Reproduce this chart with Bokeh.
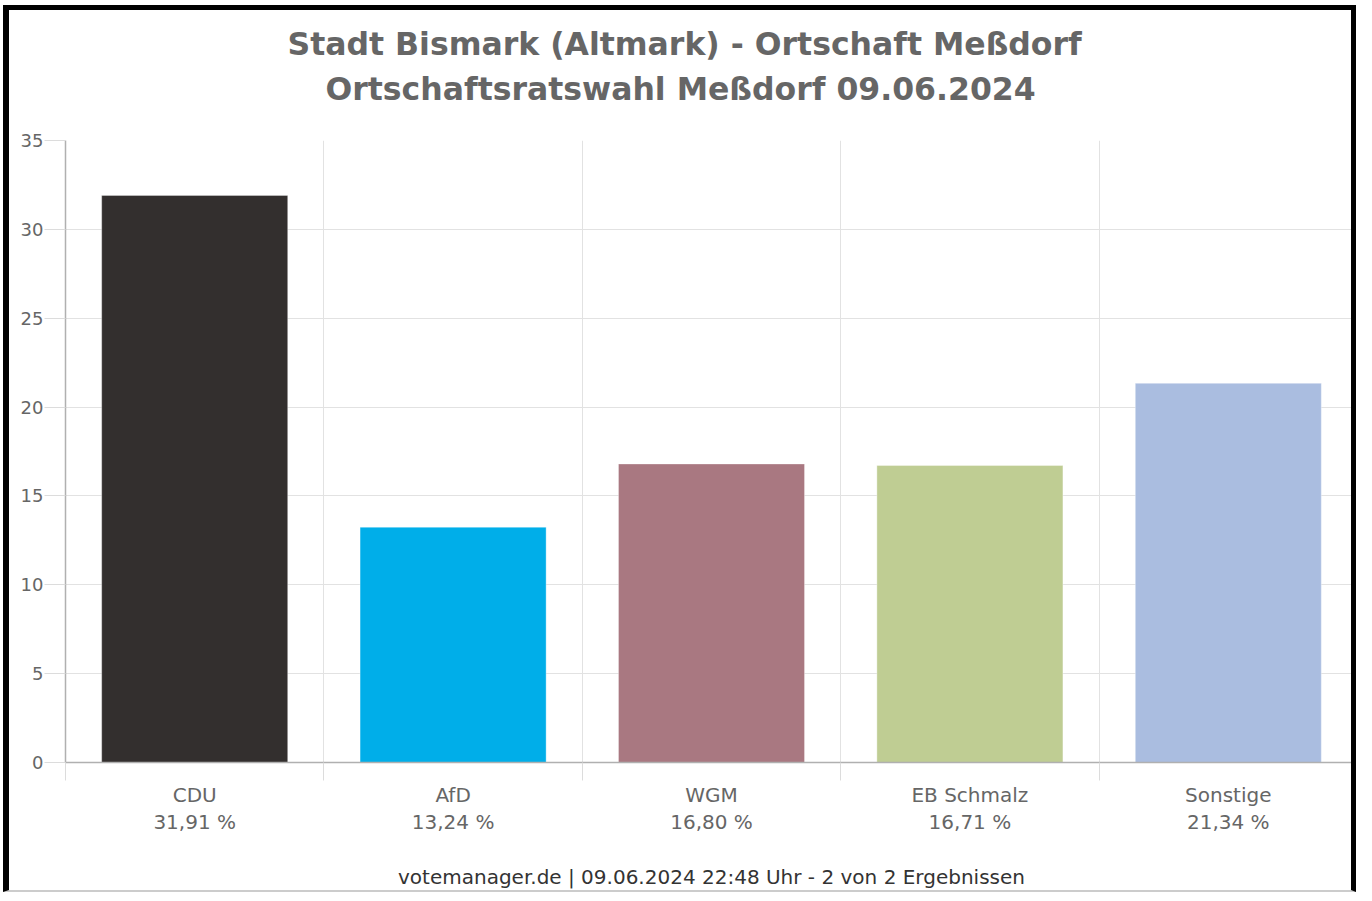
from bokeh.plotting import figure
from bokeh.models import Range1d, FixedTicker, LinearAxis, Title, ColumnDataSource
from bokeh.embed import file_html
from bokeh.resources import INLINE

parties = ["CDU", "AfD", "WGM", "EB Schmalz", "Sonstige"]
shares = [31.91, 13.24, 16.80, 16.71, 21.34]
share_labels = ["31,91 %", "13,24 %", "16,80 %", "16,71 %", "21,34 %"]
colors = ["#332f2e", "#00aee9", "#a97881", "#bfcd93", "#aabde0"]
y_ticks = [0, 5, 10, 15, 20, 25, 30, 35]
title_line1 = "Stadt Bismark (Altmark) - Ortschaft Meßdorf"
title_line2 = "Ortschaftsratswahl Meßdorf 09.06.2024"
footer_text = "votemanager.de | 09.06.2024 22:48 Uhr - 2 von 2 Ergebnissen"

n = len(parties)
centers = [i + 0.5 for i in range(n)]
bounds = list(range(n + 1))

src = ColumnDataSource(dict(x=centers, top=shares, color=colors, name=parties))

FONT = "DejaVu Sans"
W, H = 1353, 887
ML, MR, MT, MB = 56, 5, 130, 135

p = figure(width=W, height=H, x_range=Range1d(0, n), y_range=Range1d(0, 35),
           output_backend="svg", toolbar_location=None,
           min_border_left=ML, min_border_right=MR, min_border_top=MT, min_border_bottom=MB)
p.styles = {"margin-left": "3px", "margin-top": "5px",
            "border-top": "5px solid black", "border-left": "6px solid black",
            "border-right": "5px solid black", "border-bottom": "2px solid #cccccc"}
p.outline_line_color = None
p.background_fill_color = "white"
p.border_fill_color = "white"

p.vbar(x="x", top="top", width=0.72, fill_color="color", line_color="white",
       line_alpha=0.35, line_width=1, source=src)

# grids
p.xgrid[0].ticker = FixedTicker(ticks=bounds)
p.xgrid[0].grid_line_color = "#e2e2e2"
p.ygrid[0].ticker = FixedTicker(ticks=y_ticks)
p.ygrid[0].grid_line_color = "#e2e2e2"

# y axis
ya = p.yaxis[0]
ya.ticker = FixedTicker(ticks=y_ticks)
ya.axis_line_color = "#b0b0b0"
ya.axis_line_width = 1.5
ya.major_tick_in = 0
ya.major_tick_out = 21
ya.major_tick_line_color = "#dcdcdc"
ya.minor_tick_line_color = None
ya.major_label_standoff = 1
ya.major_label_text_font = FONT
ya.major_label_text_font_size = "18px"
ya.major_label_text_color = "#666666"

# x axis (names)
xa = p.xaxis[0]
xa.ticker = FixedTicker(ticks=centers, minor_ticks=bounds)
xa.major_label_overrides = {c: t for c, t in zip(centers, parties)}
xa.axis_line_color = "#b0b0b0"
xa.axis_line_width = 1.5
xa.major_tick_in = 0
xa.major_tick_out = 0
xa.major_tick_line_color = None
xa.minor_tick_in = 0
xa.minor_tick_out = 18
xa.minor_tick_line_color = "#dcdcdc"
xa.major_label_standoff = 2
xa.major_label_text_font = FONT
xa.major_label_text_font_size = "20px"
xa.major_label_text_color = "#666666"

# x axis (percentages)
xb = LinearAxis(ticker=FixedTicker(ticks=centers),
                major_label_overrides={c: t for c, t in zip(centers, share_labels)})
xb.axis_line_color = None
xb.major_tick_line_color = None
xb.minor_tick_line_color = None
xb.major_tick_in = 0
xb.major_tick_out = 0
xb.major_label_standoff = 0
xb.major_label_text_font = FONT
xb.major_label_text_font_size = "20px"
xb.major_label_text_color = "#666666"
p.add_layout(xb, "below")

# spacer + footer
p.add_layout(Title(text=" ", text_font_size="10px", standoff=12), "below")
p.add_layout(Title(text=footer_text, align="center", text_font=FONT, text_font_size="20px",
                   text_font_style="normal", text_color="#333333", standoff=2), "below")

# titles: spacer closest to the frame, then line 2, then line 1
p.add_layout(Title(text=" ", text_font_size="10px", standoff=17), "above")
p.add_layout(Title(text=title_line2, align="left", offset=260, text_font=FONT, text_font_size="31.5px",
                   text_font_style="bold", text_color="#666666", standoff=7), "above")
p.add_layout(Title(text=title_line1, align="left", offset=222, text_font=FONT, text_font_size="31.5px",
                   text_font_style="bold", text_color="#666666", standoff=7), "above")

open("out.html", "w").write(file_html(p, INLINE))
